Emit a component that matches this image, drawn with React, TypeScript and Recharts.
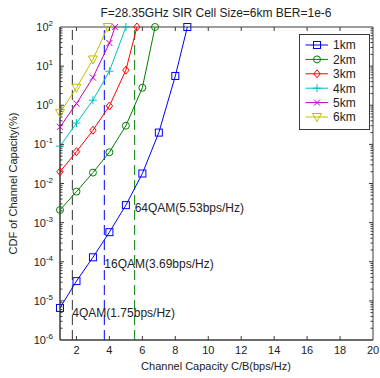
import React from 'react';
import { LineChart, Line, XAxis, YAxis, ReferenceLine, ReferenceArea, ReferenceDot, Legend, Label } from 'recharts';

const seriesNames = ['1km', '2km', '3km', '4km', '5km', '6km'];
const seriesColors = ['#0000ff', '#008000', '#ff0000', '#00bfbf', '#bf00bf', '#bfbf00'];
const seriesMarkers = ['square', 'circle', 'diamond', 'plus', 'cross', 'triangleDown'];

const capacity1km = [1, 2, 3, 4, 5, 6, 7, 8, 8.73];
const cdf1km = [6.6e-6, 3.2e-5, 1.3e-4, 5.7e-4, 2.8e-3, 1.8e-2, 0.2, 5.6, 100];
const capacity2km = [1, 2, 3, 4, 5, 6, 6.77];
const cdf2km = [2.1e-3, 6.2e-3, 1.9e-2, 6.3e-2, 0.3, 2.8, 100];
const capacity3km = [1, 2, 3, 4, 5, 5.67];
const cdf3km = [0.02, 0.065, 0.23, 0.96, 7.9, 100];
const capacity4km = [1, 2, 3, 4, 5.0];
const cdf4km = [0.09, 0.35, 1.35, 7.4, 100];
const capacity5km = [1, 2, 3, 4, 4.35];
const cdf5km = [0.28, 1.1, 5.1, 39, 100];
const capacity6km = [1, 2, 3, 3.9];
const cdf6km = [0.64, 2.8, 14.8, 100];

const capacities = [capacity1km, capacity2km, capacity3km, capacity4km, capacity5km, capacity6km];
const cdfs = [cdf1km, cdf2km, cdf3km, cdf4km, cdf5km, cdf6km];

const thresholdCapacity = [1.75, 3.69, 5.53];
const thresholdColors = ['#333333', '#0000ff', '#008000'];
const thresholdLabels = ['4QAM(1.75bps/Hz)', '16QAM(3.69bps/Hz)', '64QAM(5.53bps/Hz)'];
const thresholdLabelCdf = [5.0e-6, 9.0e-5, 2.45e-3];

const xTicks = [2, 4, 6, 8, 10, 12, 14, 16, 18, 20];
const yExponents = [-6, -5, -4, -3, -2, -1, 0, 1, 2];
const minorMultipliers = [1, 2, 3, 4, 5, 6, 7, 8, 9];

const title = 'F=28.35GHz SIR Cell Size=6km BER=1e-6';
const xLabel = 'Channel Capacity C/B(bps/Hz)';
const yLabel = 'CDF of Channel Capacity(%)';

const yTicks: number[] = [];
yExponents.forEach((e) => {
  if (e === 2) { yTicks.push(100); return; }
  minorMultipliers.forEach((m) => yTicks.push(m * Math.pow(10, e)));
});

const seriesData = seriesNames.map((name, i) =>
  capacities[i].map((c, j) => ({ x: c, y: cdfs[i][j] }))
);

const PL = 60, PR = 373, PT = 27, PB = 340;
const AXIS = '#3a3a3a';
const FONT = 'Arial, "Liberation Sans", Helvetica, sans-serif';

function Marker({ cx, cy, color, kind }: { cx: number; cy: number; color: string; kind: string }) {
  if (cx == null || cy == null || isNaN(cx) || isNaN(cy)) return null;
  const s = 3.5;
  switch (kind) {
    case 'square':
      return <rect x={cx - s} y={cy - s} width={2 * s} height={2 * s} fill="none" stroke={color} strokeWidth={1} />;
    case 'circle':
      return <circle cx={cx} cy={cy} r={s} fill="none" stroke={color} strokeWidth={1} />;
    case 'diamond':
      return <polygon points={`${cx},${cy - 4} ${cx + 3.2},${cy} ${cx},${cy + 4} ${cx - 3.2},${cy}`} fill="none" stroke={color} strokeWidth={1} />;
    case 'plus':
      return <path d={`M${cx - 4},${cy}H${cx + 4}M${cx},${cy - 4}V${cy + 4}`} stroke={color} strokeWidth={1} />;
    case 'cross':
      return <path d={`M${cx - 3},${cy - 3}L${cx + 3},${cy + 3}M${cx - 3},${cy + 3}L${cx + 3},${cy - 3}`} stroke={color} strokeWidth={1} />;
    case 'triangleDown':
      return <polygon points={`${cx - 4.5},${cy - 3.5} ${cx + 4.5},${cy - 3.5} ${cx},${cy + 4.5}`} fill="none" stroke={color} strokeWidth={1} />;
    default:
      return null;
  }
}

const YTick = (props: any) => {
  const { y, payload } = props;
  const v = payload.value;
  const lg = Math.log10(v);
  const exp = Math.round(lg);
  const major = Math.abs(lg - exp) < 1e-6;
  const len = major ? 4 : 2.5;
  return (
    <g>
      {v > 1e-6 && v < 100 && (
        <>
          <line x1={PL} x2={PL + len} y1={y} y2={y} stroke={AXIS} strokeWidth={1} />
          <line x1={PR} x2={PR - len} y1={y} y2={y} stroke={AXIS} strokeWidth={1} />
        </>
      )}
      {major && (
        <text x={53} y={y + 4} textAnchor="end" fontSize={11} fontFamily={FONT} fill="#222">
          10<tspan dy={-5} fontSize={8}>{exp}</tspan>
        </text>
      )}
    </g>
  );
};

const XTick = (props: any) => {
  const { x, payload } = props;
  return (
    <g>
      {payload.value < 20 && (
        <>
          <line x1={x} x2={x} y1={PB} y2={PB - 4} stroke={AXIS} strokeWidth={1} />
          <line x1={x} x2={x} y1={PT} y2={PT + 4} stroke={AXIS} strokeWidth={1} />
        </>
      )}
      <text x={x} y={PB + 14} textAnchor="middle" fontSize={11} fontFamily={FONT} fill="#222">
        {payload.value}
      </text>
    </g>
  );
};

const LegendBox = () => (
  <svg width={71} height={96} style={{ display: 'block' }}>
    <rect x={0.5} y={0.5} width={70} height={95} fill="#fff" stroke={AXIS} strokeWidth={1} />
    {seriesNames.map((name, i) => {
      const cy = 11 + i * 14.4;
      return (
        <g key={name}>
          <line x1={6.5} x2={29} y1={cy} y2={cy} stroke={seriesColors[i]} strokeWidth={1} />
          <Marker cx={18} cy={cy} color={seriesColors[i]} kind={seriesMarkers[i]} />
          <text x={34} y={cy + 4.3} fontSize={12} fontFamily={FONT} fill="#222">{name}</text>
        </g>
      );
    })}
  </svg>
);

export default function App() {
  return (
    <div style={{ position: 'absolute', left: 0, top: 0, width: 380, height: 378, background: '#fff' }}>
      <div style={{ position: 'absolute', left: 0, top: 6, width: 432, textAlign: 'center', fontFamily: FONT, fontSize: 12, lineHeight: '15px', color: '#222' }}>
        {title}
      </div>
      <LineChart width={380} height={378} margin={{ top: PT, right: 380 - PR, left: 0, bottom: 0 }}>
        <XAxis
          type="number"
          dataKey="x"
          domain={[1, 20]}
          ticks={xTicks}
          height={38}
          tickSize={0}
          tickMargin={0}
          tickLine={false}
          stroke={AXIS}
          tick={<XTick />}
          interval={0}
        >
          <Label
            content={() => (
              <text x={216} y={370} textAnchor="middle" fontSize={11} fontFamily={FONT} fill="#222">{xLabel}</text>
            )}
          />
        </XAxis>
        <YAxis
          type="number"
          scale="log"
          domain={[1e-6, 100]}
          ticks={yTicks}
          width={PL}
          tickSize={0}
          tickMargin={0}
          tickLine={false}
          stroke={AXIS}
          tick={<YTick />}
          interval={0}
        >
          <Label
            content={() => (
              <text x={17} y={183.5} transform="rotate(-90 17 183.5)" textAnchor="middle" fontSize={11} fontFamily={FONT} fill="#222">{yLabel}</text>
            )}
          />
        </YAxis>
        <ReferenceArea x1={1} x2={20} y1={1e-6} y2={100} fill="none" stroke={AXIS} strokeWidth={1} ifOverflow="visible" />
        {thresholdCapacity.map((c, i) => (
          <ReferenceLine key={'t' + i} x={c} stroke={thresholdColors[i]} strokeDasharray="10 5" strokeWidth={1} />
        ))}
        {seriesNames.map((name, i) => (
          <Line
            key={name}
            name={name}
            data={seriesData[i]}
            dataKey="y"
            type="linear"
            stroke={seriesColors[i]}
            strokeWidth={1}
            isAnimationActive={false}
            dot={(p: any) => <Marker key={name + p.index} cx={p.cx} cy={p.cy} color={seriesColors[i]} kind={seriesMarkers[i]} />}
            activeDot={false}
            legendType="none"
          />
        ))}
        {thresholdLabels.map((lab, i) => (
          <ReferenceDot
            key={'l' + i}
            x={thresholdCapacity[i]}
            y={thresholdLabelCdf[i]}
            r={0}
            fill="none"
            stroke="none"
            label={{ value: lab, position: 'right', offset: 0, fontSize: 12, fontFamily: FONT, fill: '#222' }}
          />
        ))}
        <Legend
          layout="horizontal"
          verticalAlign="middle"
          align="center"
          wrapperStyle={{ position: 'absolute', left: 299, top: 34, width: 71, height: 96 }}
          content={() => <LegendBox />}
        />
      </LineChart>
    </div>
  );
}
